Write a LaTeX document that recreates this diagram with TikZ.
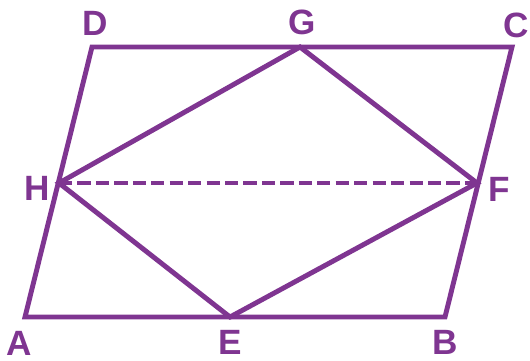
\documentclass[tikz,border=0pt]{standalone}
\usepackage{fontspec}
\setmainfont{Liberation Sans}
\usetikzlibrary{calc}
\definecolor{figpurple}{HTML}{7F3591}

\begin{document}
\begin{tikzpicture}[
      x=0.02cm, y=-0.02cm,
      edge/.style={draw=figpurple, line width=2.8pt, line join=miter},
      lbl/.style={text=figpurple, font=\fontsize{20}{24}\selectfont\bfseries, inner sep=0pt},
    ]
    \useasboundingbox (0,0) rectangle (530,360);
    % vertices
    \coordinate (A) at (25,317);
    \coordinate (B) at (445,317);
    \coordinate (C) at (512,47);
    \coordinate (D) at (92,47);
    \coordinate (E) at (230,317);
    \coordinate (F) at (477,183);
    \coordinate (G) at (300,47);
    \coordinate (H) at (59,183);

    \draw[edge] (A) -- (B) -- (C) -- (D) -- cycle;
    \draw[edge] (E) -- (F) -- (G) -- (H) -- cycle;
    \draw[edge, dash pattern=on 7.5pt off 3pt] (H) -- (F);

    % labels
    \node[lbl] (lA) at (19,343) {A};
    \node[lbl] (lB) at (445,342) {B};
    \node[lbl] (lC) at (516,25) {C};
    \node[lbl] (lD) at (95,23) {D};
    \node[lbl] (lE) at (230,342) {E};
    \node[lbl] (lF) at (499,189) {F};
    \node[lbl] (lG) at (302,22) {G};
    \node[lbl] (lH) at (37,188) {H};
  \end{tikzpicture}
\end{document}
